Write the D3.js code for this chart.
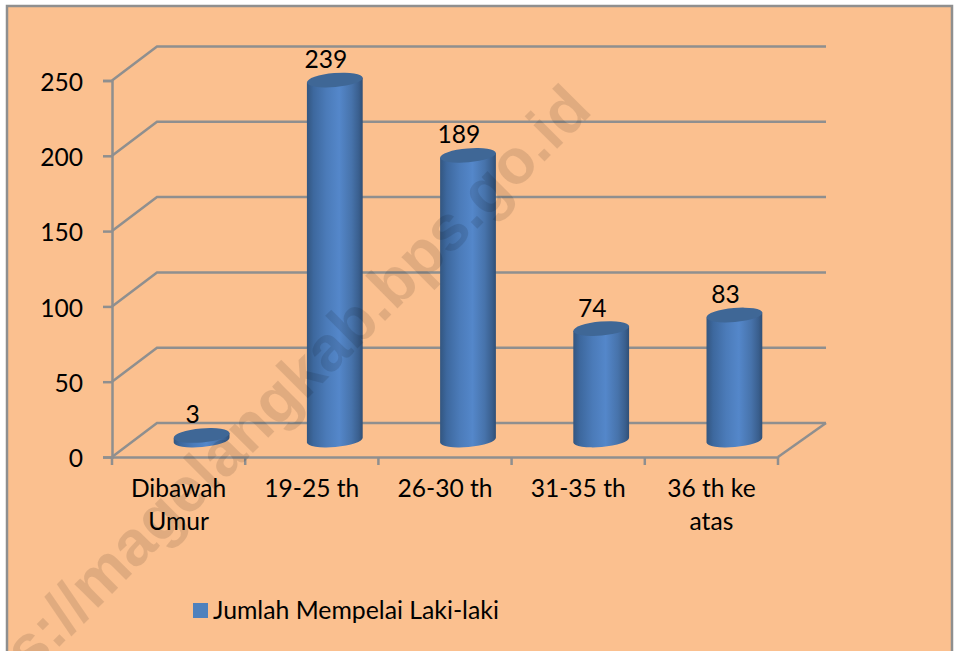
<!DOCTYPE html>
<html>
<head>
<meta charset="utf-8">
<script src="https://cdn.jsdelivr.net/npm/d3@7"></script>
<style>
  html, body { margin: 0; padding: 0; background: white; }
  svg { display: block; }
  text { font-family: Lato, "Noto Sans", sans-serif; fill: black; }
</style>
</head>
<body>
<div id="container"></div>
<script>
// data we work with
let categories = ["Dibawah Umur", "19-25 th", "26-30 th", "31-35 th", "36 th ke atas"];
let values = [3, 239, 189, 74, 83];
let yTicks = [0, 50, 100, 150, 200, 250];
let seriesName = "Jumlah Mempelai Laki-laki";
let watermark = "https://magelangkab.bps.go.id";

// global variables
let w = 956;
let h = 651;
let depthX = 45;   // how far the back wall is shifted from the front axis
let depthY = -34;
let barRx = 28;
let barRy = 7;
let tilt = -5;     // the cylinder ends are slightly rotated
let fontSize = 24.6;

let viz = d3.select("#container")
  .append("svg")
    .attr("width", w)
    .attr("height", h)
;

// panel
viz.append("rect")
  .attr("x", 7).attr("y", 6)
  .attr("width", 945).attr("height", h)
  .attr("fill", "#FBC08F")
  .attr("stroke", "#8f8f8f")
  .attr("stroke-width", 2.5)
;

// gradient for the cylinders
let grad = viz.append("defs").append("linearGradient")
  .attr("id", "cyl")
  .attr("x1", 0).attr("x2", 1).attr("y1", 0).attr("y2", 0);
[[0, "#335680"], [0.12, "#3D689E"], [0.35, "#4B7BB9"], [0.58, "#5487CA"], [0.8, "#4773AB"], [0.93, "#3A5F8E"], [1, "#304F75"]]
  .forEach(function(s){
    grad.append("stop").attr("offset", s[0]).attr("stop-color", s[1]);
  });

// scales
let xScale = d3.scaleBand().domain(categories).range([112, 778]);
let yScale = d3.scaleLinear().domain([0, 250]).range([457, 80.5]);

// back wall and floor lines
let wall = viz.append("g").attr("class", "wall")
  .attr("fill", "none")
  .attr("stroke", "#8f8f8f")
  .attr("stroke-width", 2.5);
wall.selectAll("path").data(yTicks).enter()
  .append("path")
    .attr("d", function(d){
      let y = yScale(d);
      return "M112," + y + "L" + (112+depthX) + "," + (y+depthY) + "L" + (778+depthX+3) + "," + (y+depthY);
    })
;
wall.append("path")
  .attr("d", "M" + (778+depthX+3) + "," + (yScale(0)+depthY) + "L778," + yScale(0));

// axes
let yAxis = d3.axisLeft(yScale).tickValues(yTicks).tickSize(9).tickPadding(20);
let yAxisGroup = viz.append("g").attr("class", "yaxis")
  .attr("transform", "translate(112,0)")
  .call(yAxis);

let xAxis = d3.axisBottom(xScale).tickSize(0).tickPadding(27);
let xAxisGroup = viz.append("g").attr("class", "xaxis")
  .attr("transform", "translate(0," + yScale(0) + ")")
  .call(xAxis);

// tick marks sit between the categories, not on them
xAxisGroup.selectAll(".sep")
  .data(d3.range(categories.length + 1)).enter()
  .append("line")
    .attr("class", "sep")
    .attr("x1", function(i){ return 112 + i*xScale.step(); })
    .attr("x2", function(i){ return 112 + i*xScale.step(); })
    .attr("y1", 0).attr("y2", 8)
;

viz.selectAll(".yaxis path, .yaxis line, .xaxis path, .xaxis line")
  .attr("stroke", "#8f8f8f")
  .attr("stroke-width", 2.5);
viz.selectAll(".yaxis text, .xaxis text")
  .attr("font-size", fontSize)
  .attr("font-family", "Lato, 'Noto Sans', sans-serif");
yAxisGroup.selectAll("text").attr("dy", "0.4em");

// wrap the two long category names
let wrapped = { "Dibawah Umur": ["Dibawah", "Umur"], "36 th ke atas": ["36 th ke", "atas"] };
xAxisGroup.selectAll(".tick text").each(function(d){
  let lines = wrapped[d] || [d];
  let t = d3.select(this).text(null).attr("dy", null).attr("y", 40);
  lines.forEach(function(l, i){
    t.append("tspan").attr("x", 0).attr("y", 40 + i*33).text(l);
  });
});

// cylinders
let rad = tilt * Math.PI / 180;
let ox = barRx * Math.cos(rad);
let oy = barRx * Math.sin(rad);

function barX(d){ return xScale(d) + xScale.bandwidth()/2 + depthX/2 + 0.5; }
function barY(v){ return yScale(v) + depthY/2; }

let bars = viz.append("g").attr("class", "graphgroup")
  .selectAll(".datapoint")
  .data(categories.map(function(c, i){ return { name: c, value: values[i] }; }))
  .enter()
  .append("g")
    .attr("class", "datapoint")
;
bars.append("path")
  .attr("fill", "url(#cyl)")
  .attr("d", function(d){
    let cx = barX(d.name), top = barY(d.value), bot = barY(0);
    return "M" + (cx-ox) + "," + (top-oy)
      + "L" + (cx-ox) + "," + (bot-oy)
      + "A" + barRx + "," + barRy + " " + tilt + " 0 0 " + (cx+ox) + "," + (bot+oy)
      + "L" + (cx+ox) + "," + (top+oy)
      + "Z";
  })
;
bars.append("ellipse")
  .attr("rx", barRx).attr("ry", barRy)
  .attr("fill", "#3F6796")
  .attr("transform", function(d){
    return "translate(" + barX(d.name) + "," + barY(d.value) + ") rotate(" + tilt + ")";
  })
;
bars.append("text")
  .text(function(d){ return d.value; })
  .attr("x", function(d){ return barX(d.name) - 9; })
  .attr("y", function(d){ return barY(d.value) - 12; })
  .attr("text-anchor", "middle")
  .attr("font-size", fontSize)
;

// legend
viz.append("rect")
  .attr("x", 193).attr("y", 603)
  .attr("width", 15).attr("height", 15)
  .attr("fill", "#4F81BD");
viz.append("text")
  .text(seriesName)
  .attr("x", 213).attr("y", 619)
  .attr("font-size", 24.8);

// watermark goes over everything
viz.append("text")
  .text(watermark)
  .attr("transform", "translate(594,112) rotate(-45)")
  .attr("text-anchor", "end")
  .attr("font-size", 63.5)
  .attr("font-weight", "bold")
  .style("font-family", "'Liberation Sans', sans-serif")
  .style("fill", "black")
  .style("fill-opacity", 0.105);
</script>
</body>
</html>
